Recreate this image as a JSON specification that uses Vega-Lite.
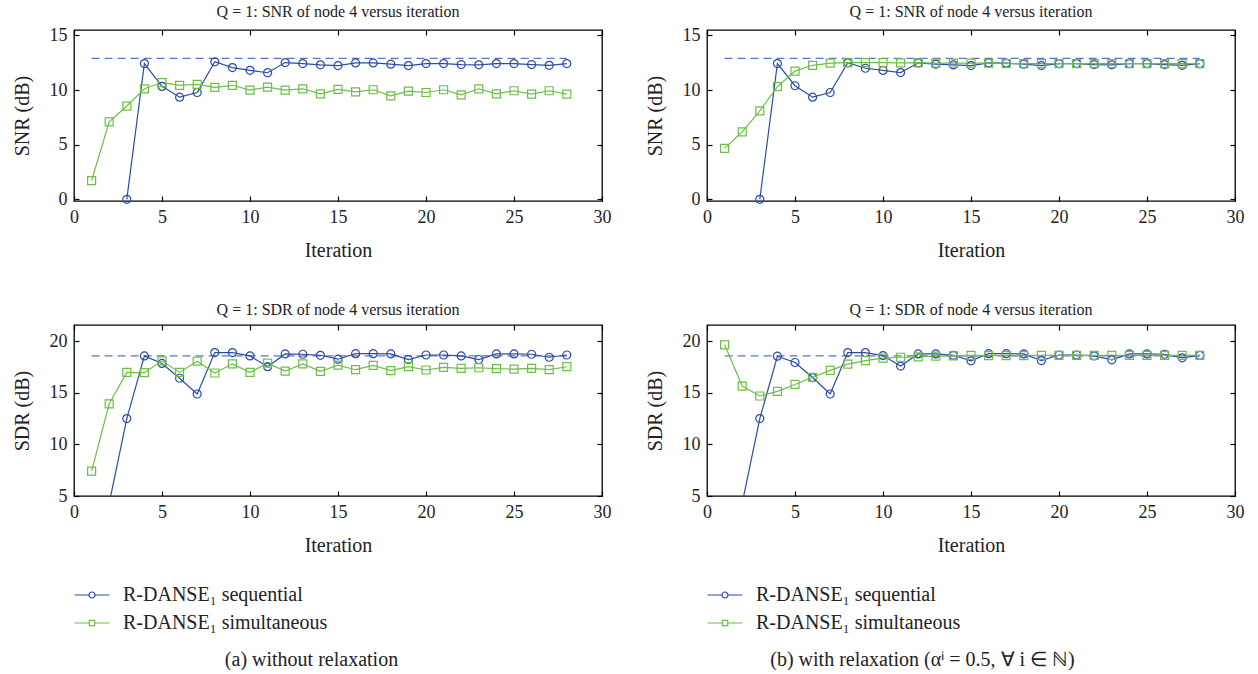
{
  "$schema": "https://vega.github.io/schema/vega-lite/v6.json",
  "background": "white",
  "padding": {"left": 11, "top": 3, "right": 5, "bottom": 0},
  "datasets": {
    "ref_snr": [{"iteration": 1, "value": 12.9}, {"iteration": 28, "value": 12.9}],
    "ref_sdr": [{"iteration": 1, "value": 18.6}, {"iteration": 28, "value": 18.6}],
    "snr_a": [
      {"iteration": 3, "series": "R-DANSE₁ sequential", "value": 0.0},
      {"iteration": 4, "series": "R-DANSE₁ sequential", "value": 12.43},
      {"iteration": 5, "series": "R-DANSE₁ sequential", "value": 10.34},
      {"iteration": 6, "series": "R-DANSE₁ sequential", "value": 9.35},
      {"iteration": 7, "series": "R-DANSE₁ sequential", "value": 9.78},
      {"iteration": 8, "series": "R-DANSE₁ sequential", "value": 12.59},
      {"iteration": 9, "series": "R-DANSE₁ sequential", "value": 12.06},
      {"iteration": 10, "series": "R-DANSE₁ sequential", "value": 11.81},
      {"iteration": 11, "series": "R-DANSE₁ sequential", "value": 11.59},
      {"iteration": 12, "series": "R-DANSE₁ sequential", "value": 12.52},
      {"iteration": 13, "series": "R-DANSE₁ sequential", "value": 12.43},
      {"iteration": 14, "series": "R-DANSE₁ sequential", "value": 12.31},
      {"iteration": 15, "series": "R-DANSE₁ sequential", "value": 12.24},
      {"iteration": 16, "series": "R-DANSE₁ sequential", "value": 12.49},
      {"iteration": 17, "series": "R-DANSE₁ sequential", "value": 12.49},
      {"iteration": 18, "series": "R-DANSE₁ sequential", "value": 12.37},
      {"iteration": 19, "series": "R-DANSE₁ sequential", "value": 12.24},
      {"iteration": 20, "series": "R-DANSE₁ sequential", "value": 12.43},
      {"iteration": 21, "series": "R-DANSE₁ sequential", "value": 12.43},
      {"iteration": 22, "series": "R-DANSE₁ sequential", "value": 12.34},
      {"iteration": 23, "series": "R-DANSE₁ sequential", "value": 12.31},
      {"iteration": 24, "series": "R-DANSE₁ sequential", "value": 12.43},
      {"iteration": 25, "series": "R-DANSE₁ sequential", "value": 12.43},
      {"iteration": 26, "series": "R-DANSE₁ sequential", "value": 12.34},
      {"iteration": 27, "series": "R-DANSE₁ sequential", "value": 12.27},
      {"iteration": 28, "series": "R-DANSE₁ sequential", "value": 12.43},
      {"iteration": 1, "series": "R-DANSE₁ simultaneous", "value": 1.71},
      {"iteration": 2, "series": "R-DANSE₁ simultaneous", "value": 7.1},
      {"iteration": 3, "series": "R-DANSE₁ simultaneous", "value": 8.54},
      {"iteration": 4, "series": "R-DANSE₁ simultaneous", "value": 10.12},
      {"iteration": 5, "series": "R-DANSE₁ simultaneous", "value": 10.69},
      {"iteration": 6, "series": "R-DANSE₁ simultaneous", "value": 10.44},
      {"iteration": 7, "series": "R-DANSE₁ simultaneous", "value": 10.53},
      {"iteration": 8, "series": "R-DANSE₁ simultaneous", "value": 10.25},
      {"iteration": 9, "series": "R-DANSE₁ simultaneous", "value": 10.44},
      {"iteration": 10, "series": "R-DANSE₁ simultaneous", "value": 10.0},
      {"iteration": 11, "series": "R-DANSE₁ simultaneous", "value": 10.28},
      {"iteration": 12, "series": "R-DANSE₁ simultaneous", "value": 10.0},
      {"iteration": 13, "series": "R-DANSE₁ simultaneous", "value": 10.12},
      {"iteration": 14, "series": "R-DANSE₁ simultaneous", "value": 9.66},
      {"iteration": 15, "series": "R-DANSE₁ simultaneous", "value": 10.06},
      {"iteration": 16, "series": "R-DANSE₁ simultaneous", "value": 9.84},
      {"iteration": 17, "series": "R-DANSE₁ simultaneous", "value": 10.03},
      {"iteration": 18, "series": "R-DANSE₁ simultaneous", "value": 9.47},
      {"iteration": 19, "series": "R-DANSE₁ simultaneous", "value": 9.91},
      {"iteration": 20, "series": "R-DANSE₁ simultaneous", "value": 9.78},
      {"iteration": 21, "series": "R-DANSE₁ simultaneous", "value": 10.03},
      {"iteration": 22, "series": "R-DANSE₁ simultaneous", "value": 9.56},
      {"iteration": 23, "series": "R-DANSE₁ simultaneous", "value": 10.12},
      {"iteration": 24, "series": "R-DANSE₁ simultaneous", "value": 9.66},
      {"iteration": 25, "series": "R-DANSE₁ simultaneous", "value": 9.94},
      {"iteration": 26, "series": "R-DANSE₁ simultaneous", "value": 9.63},
      {"iteration": 27, "series": "R-DANSE₁ simultaneous", "value": 9.94},
      {"iteration": 28, "series": "R-DANSE₁ simultaneous", "value": 9.63}
    ],
    "snr_b": [
      {"iteration": 3, "series": "R-DANSE₁ sequential", "value": 0.0},
      {"iteration": 4, "series": "R-DANSE₁ sequential", "value": 12.43},
      {"iteration": 5, "series": "R-DANSE₁ sequential", "value": 10.4},
      {"iteration": 6, "series": "R-DANSE₁ sequential", "value": 9.35},
      {"iteration": 7, "series": "R-DANSE₁ sequential", "value": 9.78},
      {"iteration": 8, "series": "R-DANSE₁ sequential", "value": 12.5},
      {"iteration": 9, "series": "R-DANSE₁ sequential", "value": 12.0},
      {"iteration": 10, "series": "R-DANSE₁ sequential", "value": 11.8},
      {"iteration": 11, "series": "R-DANSE₁ sequential", "value": 11.6},
      {"iteration": 12, "series": "R-DANSE₁ sequential", "value": 12.5},
      {"iteration": 13, "series": "R-DANSE₁ sequential", "value": 12.37},
      {"iteration": 14, "series": "R-DANSE₁ sequential", "value": 12.3},
      {"iteration": 15, "series": "R-DANSE₁ sequential", "value": 12.24},
      {"iteration": 16, "series": "R-DANSE₁ sequential", "value": 12.49},
      {"iteration": 17, "series": "R-DANSE₁ sequential", "value": 12.46},
      {"iteration": 18, "series": "R-DANSE₁ sequential", "value": 12.37},
      {"iteration": 19, "series": "R-DANSE₁ sequential", "value": 12.24},
      {"iteration": 20, "series": "R-DANSE₁ sequential", "value": 12.43},
      {"iteration": 21, "series": "R-DANSE₁ sequential", "value": 12.43},
      {"iteration": 22, "series": "R-DANSE₁ sequential", "value": 12.34},
      {"iteration": 23, "series": "R-DANSE₁ sequential", "value": 12.31},
      {"iteration": 24, "series": "R-DANSE₁ sequential", "value": 12.43},
      {"iteration": 25, "series": "R-DANSE₁ sequential", "value": 12.43},
      {"iteration": 26, "series": "R-DANSE₁ sequential", "value": 12.34},
      {"iteration": 27, "series": "R-DANSE₁ sequential", "value": 12.27},
      {"iteration": 28, "series": "R-DANSE₁ sequential", "value": 12.43},
      {"iteration": 1, "series": "R-DANSE₁ simultaneous", "value": 4.67},
      {"iteration": 2, "series": "R-DANSE₁ simultaneous", "value": 6.17},
      {"iteration": 3, "series": "R-DANSE₁ simultaneous", "value": 8.1},
      {"iteration": 4, "series": "R-DANSE₁ simultaneous", "value": 10.31},
      {"iteration": 5, "series": "R-DANSE₁ simultaneous", "value": 11.74},
      {"iteration": 6, "series": "R-DANSE₁ simultaneous", "value": 12.27},
      {"iteration": 7, "series": "R-DANSE₁ simultaneous", "value": 12.46},
      {"iteration": 8, "series": "R-DANSE₁ simultaneous", "value": 12.52},
      {"iteration": 9, "series": "R-DANSE₁ simultaneous", "value": 12.52},
      {"iteration": 10, "series": "R-DANSE₁ simultaneous", "value": 12.52},
      {"iteration": 11, "series": "R-DANSE₁ simultaneous", "value": 12.49},
      {"iteration": 12, "series": "R-DANSE₁ simultaneous", "value": 12.49},
      {"iteration": 13, "series": "R-DANSE₁ simultaneous", "value": 12.46},
      {"iteration": 14, "series": "R-DANSE₁ simultaneous", "value": 12.46},
      {"iteration": 15, "series": "R-DANSE₁ simultaneous", "value": 12.46},
      {"iteration": 16, "series": "R-DANSE₁ simultaneous", "value": 12.46},
      {"iteration": 17, "series": "R-DANSE₁ simultaneous", "value": 12.43},
      {"iteration": 18, "series": "R-DANSE₁ simultaneous", "value": 12.43},
      {"iteration": 19, "series": "R-DANSE₁ simultaneous", "value": 12.43},
      {"iteration": 20, "series": "R-DANSE₁ simultaneous", "value": 12.43},
      {"iteration": 21, "series": "R-DANSE₁ simultaneous", "value": 12.43},
      {"iteration": 22, "series": "R-DANSE₁ simultaneous", "value": 12.43},
      {"iteration": 23, "series": "R-DANSE₁ simultaneous", "value": 12.43},
      {"iteration": 24, "series": "R-DANSE₁ simultaneous", "value": 12.43},
      {"iteration": 25, "series": "R-DANSE₁ simultaneous", "value": 12.43},
      {"iteration": 26, "series": "R-DANSE₁ simultaneous", "value": 12.43},
      {"iteration": 27, "series": "R-DANSE₁ simultaneous", "value": 12.43},
      {"iteration": 28, "series": "R-DANSE₁ simultaneous", "value": 12.43}
    ],
    "sdr_a": [
      {"iteration": 2, "series": "R-DANSE₁ sequential", "value": 4.3},
      {"iteration": 3, "series": "R-DANSE₁ sequential", "value": 12.52},
      {"iteration": 4, "series": "R-DANSE₁ sequential", "value": 18.6},
      {"iteration": 5, "series": "R-DANSE₁ sequential", "value": 17.87},
      {"iteration": 6, "series": "R-DANSE₁ sequential", "value": 16.43},
      {"iteration": 7, "series": "R-DANSE₁ sequential", "value": 14.9},
      {"iteration": 8, "series": "R-DANSE₁ sequential", "value": 18.92},
      {"iteration": 9, "series": "R-DANSE₁ sequential", "value": 18.92},
      {"iteration": 10, "series": "R-DANSE₁ sequential", "value": 18.6},
      {"iteration": 11, "series": "R-DANSE₁ sequential", "value": 17.55},
      {"iteration": 12, "series": "R-DANSE₁ sequential", "value": 18.79},
      {"iteration": 13, "series": "R-DANSE₁ sequential", "value": 18.76},
      {"iteration": 14, "series": "R-DANSE₁ sequential", "value": 18.66},
      {"iteration": 15, "series": "R-DANSE₁ sequential", "value": 18.28},
      {"iteration": 16, "series": "R-DANSE₁ sequential", "value": 18.82},
      {"iteration": 17, "series": "R-DANSE₁ sequential", "value": 18.82},
      {"iteration": 18, "series": "R-DANSE₁ sequential", "value": 18.79},
      {"iteration": 19, "series": "R-DANSE₁ sequential", "value": 18.25},
      {"iteration": 20, "series": "R-DANSE₁ sequential", "value": 18.69},
      {"iteration": 21, "series": "R-DANSE₁ sequential", "value": 18.69},
      {"iteration": 22, "series": "R-DANSE₁ sequential", "value": 18.6},
      {"iteration": 23, "series": "R-DANSE₁ sequential", "value": 18.25},
      {"iteration": 24, "series": "R-DANSE₁ sequential", "value": 18.79},
      {"iteration": 25, "series": "R-DANSE₁ sequential", "value": 18.79},
      {"iteration": 26, "series": "R-DANSE₁ sequential", "value": 18.76},
      {"iteration": 27, "series": "R-DANSE₁ sequential", "value": 18.47},
      {"iteration": 28, "series": "R-DANSE₁ sequential", "value": 18.69},
      {"iteration": 1, "series": "R-DANSE₁ simultaneous", "value": 7.42},
      {"iteration": 2, "series": "R-DANSE₁ simultaneous", "value": 13.95},
      {"iteration": 3, "series": "R-DANSE₁ simultaneous", "value": 17.0},
      {"iteration": 4, "series": "R-DANSE₁ simultaneous", "value": 16.97},
      {"iteration": 5, "series": "R-DANSE₁ simultaneous", "value": 18.12},
      {"iteration": 6, "series": "R-DANSE₁ simultaneous", "value": 17.0},
      {"iteration": 7, "series": "R-DANSE₁ simultaneous", "value": 18.09},
      {"iteration": 8, "series": "R-DANSE₁ simultaneous", "value": 16.94},
      {"iteration": 9, "series": "R-DANSE₁ simultaneous", "value": 17.83},
      {"iteration": 10, "series": "R-DANSE₁ simultaneous", "value": 17.0},
      {"iteration": 11, "series": "R-DANSE₁ simultaneous", "value": 17.9},
      {"iteration": 12, "series": "R-DANSE₁ simultaneous", "value": 17.13},
      {"iteration": 13, "series": "R-DANSE₁ simultaneous", "value": 17.83},
      {"iteration": 14, "series": "R-DANSE₁ simultaneous", "value": 17.1},
      {"iteration": 15, "series": "R-DANSE₁ simultaneous", "value": 17.7},
      {"iteration": 16, "series": "R-DANSE₁ simultaneous", "value": 17.26},
      {"iteration": 17, "series": "R-DANSE₁ simultaneous", "value": 17.68},
      {"iteration": 18, "series": "R-DANSE₁ simultaneous", "value": 17.17},
      {"iteration": 19, "series": "R-DANSE₁ simultaneous", "value": 17.55},
      {"iteration": 20, "series": "R-DANSE₁ simultaneous", "value": 17.23},
      {"iteration": 21, "series": "R-DANSE₁ simultaneous", "value": 17.48},
      {"iteration": 22, "series": "R-DANSE₁ simultaneous", "value": 17.39},
      {"iteration": 23, "series": "R-DANSE₁ simultaneous", "value": 17.45},
      {"iteration": 24, "series": "R-DANSE₁ simultaneous", "value": 17.36},
      {"iteration": 25, "series": "R-DANSE₁ simultaneous", "value": 17.32},
      {"iteration": 26, "series": "R-DANSE₁ simultaneous", "value": 17.39},
      {"iteration": 27, "series": "R-DANSE₁ simultaneous", "value": 17.26},
      {"iteration": 28, "series": "R-DANSE₁ simultaneous", "value": 17.55}
    ],
    "sdr_b": [
      {"iteration": 2, "series": "R-DANSE₁ sequential", "value": 4.3},
      {"iteration": 3, "series": "R-DANSE₁ sequential", "value": 12.52},
      {"iteration": 4, "series": "R-DANSE₁ sequential", "value": 18.57},
      {"iteration": 5, "series": "R-DANSE₁ sequential", "value": 17.96},
      {"iteration": 6, "series": "R-DANSE₁ sequential", "value": 16.5},
      {"iteration": 7, "series": "R-DANSE₁ sequential", "value": 14.9},
      {"iteration": 8, "series": "R-DANSE₁ sequential", "value": 18.92},
      {"iteration": 9, "series": "R-DANSE₁ sequential", "value": 18.92},
      {"iteration": 10, "series": "R-DANSE₁ sequential", "value": 18.63},
      {"iteration": 11, "series": "R-DANSE₁ sequential", "value": 17.61},
      {"iteration": 12, "series": "R-DANSE₁ sequential", "value": 18.79},
      {"iteration": 13, "series": "R-DANSE₁ sequential", "value": 18.79},
      {"iteration": 14, "series": "R-DANSE₁ sequential", "value": 18.66},
      {"iteration": 15, "series": "R-DANSE₁ sequential", "value": 18.12},
      {"iteration": 16, "series": "R-DANSE₁ sequential", "value": 18.82},
      {"iteration": 17, "series": "R-DANSE₁ sequential", "value": 18.82},
      {"iteration": 18, "series": "R-DANSE₁ sequential", "value": 18.79},
      {"iteration": 19, "series": "R-DANSE₁ sequential", "value": 18.15},
      {"iteration": 20, "series": "R-DANSE₁ sequential", "value": 18.69},
      {"iteration": 21, "series": "R-DANSE₁ sequential", "value": 18.69},
      {"iteration": 22, "series": "R-DANSE₁ sequential", "value": 18.6},
      {"iteration": 23, "series": "R-DANSE₁ sequential", "value": 18.22},
      {"iteration": 24, "series": "R-DANSE₁ sequential", "value": 18.79},
      {"iteration": 25, "series": "R-DANSE₁ sequential", "value": 18.79},
      {"iteration": 26, "series": "R-DANSE₁ sequential", "value": 18.76},
      {"iteration": 27, "series": "R-DANSE₁ sequential", "value": 18.41},
      {"iteration": 28, "series": "R-DANSE₁ sequential", "value": 18.66},
      {"iteration": 1, "series": "R-DANSE₁ simultaneous", "value": 19.68},
      {"iteration": 2, "series": "R-DANSE₁ simultaneous", "value": 15.67},
      {"iteration": 3, "series": "R-DANSE₁ simultaneous", "value": 14.71},
      {"iteration": 4, "series": "R-DANSE₁ simultaneous", "value": 15.16},
      {"iteration": 5, "series": "R-DANSE₁ simultaneous", "value": 15.83},
      {"iteration": 6, "series": "R-DANSE₁ simultaneous", "value": 16.53},
      {"iteration": 7, "series": "R-DANSE₁ simultaneous", "value": 17.2},
      {"iteration": 8, "series": "R-DANSE₁ simultaneous", "value": 17.8},
      {"iteration": 9, "series": "R-DANSE₁ simultaneous", "value": 18.15},
      {"iteration": 10, "series": "R-DANSE₁ simultaneous", "value": 18.38},
      {"iteration": 11, "series": "R-DANSE₁ simultaneous", "value": 18.47},
      {"iteration": 12, "series": "R-DANSE₁ simultaneous", "value": 18.5},
      {"iteration": 13, "series": "R-DANSE₁ simultaneous", "value": 18.57},
      {"iteration": 14, "series": "R-DANSE₁ simultaneous", "value": 18.6},
      {"iteration": 15, "series": "R-DANSE₁ simultaneous", "value": 18.66},
      {"iteration": 16, "series": "R-DANSE₁ simultaneous", "value": 18.63},
      {"iteration": 17, "series": "R-DANSE₁ simultaneous", "value": 18.63},
      {"iteration": 18, "series": "R-DANSE₁ simultaneous", "value": 18.63},
      {"iteration": 19, "series": "R-DANSE₁ simultaneous", "value": 18.66},
      {"iteration": 20, "series": "R-DANSE₁ simultaneous", "value": 18.66},
      {"iteration": 21, "series": "R-DANSE₁ simultaneous", "value": 18.66},
      {"iteration": 22, "series": "R-DANSE₁ simultaneous", "value": 18.66},
      {"iteration": 23, "series": "R-DANSE₁ simultaneous", "value": 18.66},
      {"iteration": 24, "series": "R-DANSE₁ simultaneous", "value": 18.66},
      {"iteration": 25, "series": "R-DANSE₁ simultaneous", "value": 18.66},
      {"iteration": 26, "series": "R-DANSE₁ simultaneous", "value": 18.66},
      {"iteration": 27, "series": "R-DANSE₁ simultaneous", "value": 18.66},
      {"iteration": 28, "series": "R-DANSE₁ simultaneous", "value": 18.66}
    ]
  },
  "hconcat": [
    {
      "title": {"text": "(a)  without relaxation", "orient": "bottom", "anchor": "middle", "offset": 17, "fontSize": 20},
      "spacing": 40,
      "vconcat": [
        {
          "width": 528, "height": 171,
          "title": "Q = 1: SNR of node 4 versus iteration",
          "layer": [
            {"data": {"name": "ref_snr"}, "mark": {"type": "line", "color": "#5A77C6", "strokeDash": [8, 5], "strokeWidth": 1.3},
             "encoding": {
               "x": {"field": "iteration", "type": "quantitative", "scale": {"domain": [0, 30], "nice": false}, "axis": {"title": "Iteration", "values": [0, 5, 10, 15, 20, 25, 30]}},
               "y": {"field": "value", "type": "quantitative", "scale": {"domain": [-0.15, 15.5], "nice": false, "zero": false}, "axis": {"title": "SNR (dB)", "values": [0, 5, 10, 15]}}}},
            {"data": {"name": "snr_a"}, "mark": {"type": "line", "strokeWidth": 1.2},
             "encoding": {
               "x": {"field": "iteration", "type": "quantitative", "scale": {"domain": [0, 30], "nice": false}, "axis": null},
               "y": {"field": "value", "type": "quantitative", "scale": {"domain": [-0.15, 15.5], "nice": false, "zero": false}, "axis": null},
               "color": {"field": "series", "type": "nominal", "scale": {"domain": ["R-DANSE₁ sequential", "R-DANSE₁ simultaneous"], "range": ["#2C4BA6", "#6DBE46"]},
                 "legend": {"title": null, "encode": {"symbols": {"update": {"shape": {"signal": "datum.index === 0 ? 'M-2.9,0H-0.5M0.5,0H2.9M0.5,0A0.5,0.5,0,1,1,-0.5,0A0.5,0.5,0,1,1,0.5,0Z' : 'M-2.9,0H-0.45M0.45,0H2.9M-0.45,-0.45H0.45V0.45H-0.45Z'"}, "size": {"value": 144}, "fill": {"value": "transparent"}}}}}}}},
            {"data": {"name": "snr_a"}, "mark": {"type": "point", "filled": false, "size": 64, "strokeWidth": 1.2, "opacity": 1},
             "encoding": {
               "x": {"field": "iteration", "type": "quantitative", "scale": {"domain": [0, 30], "nice": false}, "axis": {"orient": "top", "labels": false, "title": null, "values": [0, 5, 10, 15, 20, 25, 30]}},
               "y": {"field": "value", "type": "quantitative", "scale": {"domain": [-0.15, 15.5], "nice": false, "zero": false}, "axis": {"orient": "right", "labels": false, "title": null, "values": [0, 5, 10, 15]}},
               "color": {"field": "series", "type": "nominal", "scale": {"domain": ["R-DANSE₁ sequential", "R-DANSE₁ simultaneous"], "range": ["#2C4BA6", "#6DBE46"]},
                 "legend": {"title": null, "encode": {"symbols": {"update": {"shape": {"signal": "datum.index === 0 ? 'M-2.9,0H-0.5M0.5,0H2.9M0.5,0A0.5,0.5,0,1,1,-0.5,0A0.5,0.5,0,1,1,0.5,0Z' : 'M-2.9,0H-0.45M0.45,0H2.9M-0.45,-0.45H0.45V0.45H-0.45Z'"}, "size": {"value": 144}, "fill": {"value": "transparent"}}}}}},
               "shape": {"field": "series", "type": "nominal", "scale": {"domain": ["R-DANSE₁ sequential", "R-DANSE₁ simultaneous"], "range": ["circle", "square"]}, "legend": null}}}
          ],
          "resolve": {"axis": {"x": "independent", "y": "independent"}}
        },
        {
          "width": 528, "height": 171,
          "title": "Q = 1: SDR of node 4 versus iteration",
          "layer": [
            {"data": {"name": "ref_sdr"}, "mark": {"type": "line", "color": "#5A77C6", "strokeDash": [8, 5], "strokeWidth": 1.3},
             "encoding": {
               "x": {"field": "iteration", "type": "quantitative", "scale": {"domain": [0, 30], "nice": false}, "axis": {"title": "Iteration", "values": [0, 5, 10, 15, 20, 25, 30]}},
               "y": {"field": "value", "type": "quantitative", "scale": {"domain": [5, 21.6], "nice": false, "zero": false}, "axis": {"title": "SDR (dB)", "values": [5, 10, 15, 20]}}}},
            {"data": {"name": "sdr_a"}, "mark": {"type": "line", "strokeWidth": 1.2, "clip": true},
             "encoding": {
               "x": {"field": "iteration", "type": "quantitative", "scale": {"domain": [0, 30], "nice": false}, "axis": null},
               "y": {"field": "value", "type": "quantitative", "scale": {"domain": [5, 21.6], "nice": false, "zero": false}, "axis": null},
               "color": {"field": "series", "type": "nominal", "scale": {"domain": ["R-DANSE₁ sequential", "R-DANSE₁ simultaneous"], "range": ["#2C4BA6", "#6DBE46"]},
                 "legend": {"title": null, "encode": {"symbols": {"update": {"shape": {"signal": "datum.index === 0 ? 'M-2.9,0H-0.5M0.5,0H2.9M0.5,0A0.5,0.5,0,1,1,-0.5,0A0.5,0.5,0,1,1,0.5,0Z' : 'M-2.9,0H-0.45M0.45,0H2.9M-0.45,-0.45H0.45V0.45H-0.45Z'"}, "size": {"value": 144}, "fill": {"value": "transparent"}}}}}}}},
            {"data": {"name": "sdr_a"}, "mark": {"type": "point", "filled": false, "size": 64, "strokeWidth": 1.2, "opacity": 1, "clip": true},
             "encoding": {
               "x": {"field": "iteration", "type": "quantitative", "scale": {"domain": [0, 30], "nice": false}, "axis": {"orient": "top", "labels": false, "title": null, "values": [0, 5, 10, 15, 20, 25, 30]}},
               "y": {"field": "value", "type": "quantitative", "scale": {"domain": [5, 21.6], "nice": false, "zero": false}, "axis": {"orient": "right", "labels": false, "title": null, "values": [5, 10, 15, 20]}},
               "color": {"field": "series", "type": "nominal", "scale": {"domain": ["R-DANSE₁ sequential", "R-DANSE₁ simultaneous"], "range": ["#2C4BA6", "#6DBE46"]},
                 "legend": {"title": null, "encode": {"symbols": {"update": {"shape": {"signal": "datum.index === 0 ? 'M-2.9,0H-0.5M0.5,0H2.9M0.5,0A0.5,0.5,0,1,1,-0.5,0A0.5,0.5,0,1,1,0.5,0Z' : 'M-2.9,0H-0.45M0.45,0H2.9M-0.45,-0.45H0.45V0.45H-0.45Z'"}, "size": {"value": 144}, "fill": {"value": "transparent"}}}}}},
               "shape": {"field": "series", "type": "nominal", "scale": {"domain": ["R-DANSE₁ sequential", "R-DANSE₁ simultaneous"], "range": ["circle", "square"]}, "legend": null}}}
          ],
          "resolve": {"axis": {"x": "independent", "y": "independent"}}
        }
      ],
      "resolve": {"scale": {"y": "independent"}}
    },
    {
      "title": {"text": "(b)  with relaxation (αⁱ = 0.5,  ∀ i ∈ ℕ)", "orient": "bottom", "anchor": "middle", "offset": 17, "fontSize": 20, "dx": -22},
      "spacing": 40,
      "vconcat": [
        {
          "width": 528, "height": 171,
          "title": "Q = 1: SNR of node 4 versus iteration",
          "layer": [
            {"data": {"name": "ref_snr"}, "mark": {"type": "line", "color": "#5A77C6", "strokeDash": [8, 5], "strokeWidth": 1.3},
             "encoding": {
               "x": {"field": "iteration", "type": "quantitative", "scale": {"domain": [0, 30], "nice": false}, "axis": {"title": "Iteration", "values": [0, 5, 10, 15, 20, 25, 30]}},
               "y": {"field": "value", "type": "quantitative", "scale": {"domain": [-0.15, 15.5], "nice": false, "zero": false}, "axis": {"title": "SNR (dB)", "values": [0, 5, 10, 15]}}}},
            {"data": {"name": "snr_b"}, "mark": {"type": "line", "strokeWidth": 1.2},
             "encoding": {
               "x": {"field": "iteration", "type": "quantitative", "scale": {"domain": [0, 30], "nice": false}, "axis": null},
               "y": {"field": "value", "type": "quantitative", "scale": {"domain": [-0.15, 15.5], "nice": false, "zero": false}, "axis": null},
               "color": {"field": "series", "type": "nominal", "scale": {"domain": ["R-DANSE₁ sequential", "R-DANSE₁ simultaneous"], "range": ["#2C4BA6", "#6DBE46"]},
                 "legend": {"title": null, "encode": {"symbols": {"update": {"shape": {"signal": "datum.index === 0 ? 'M-2.9,0H-0.5M0.5,0H2.9M0.5,0A0.5,0.5,0,1,1,-0.5,0A0.5,0.5,0,1,1,0.5,0Z' : 'M-2.9,0H-0.45M0.45,0H2.9M-0.45,-0.45H0.45V0.45H-0.45Z'"}, "size": {"value": 144}, "fill": {"value": "transparent"}}}}}}}},
            {"data": {"name": "snr_b"}, "mark": {"type": "point", "filled": false, "size": 64, "strokeWidth": 1.2, "opacity": 1},
             "encoding": {
               "x": {"field": "iteration", "type": "quantitative", "scale": {"domain": [0, 30], "nice": false}, "axis": {"orient": "top", "labels": false, "title": null, "values": [0, 5, 10, 15, 20, 25, 30]}},
               "y": {"field": "value", "type": "quantitative", "scale": {"domain": [-0.15, 15.5], "nice": false, "zero": false}, "axis": {"orient": "right", "labels": false, "title": null, "values": [0, 5, 10, 15]}},
               "color": {"field": "series", "type": "nominal", "scale": {"domain": ["R-DANSE₁ sequential", "R-DANSE₁ simultaneous"], "range": ["#2C4BA6", "#6DBE46"]},
                 "legend": {"title": null, "encode": {"symbols": {"update": {"shape": {"signal": "datum.index === 0 ? 'M-2.9,0H-0.5M0.5,0H2.9M0.5,0A0.5,0.5,0,1,1,-0.5,0A0.5,0.5,0,1,1,0.5,0Z' : 'M-2.9,0H-0.45M0.45,0H2.9M-0.45,-0.45H0.45V0.45H-0.45Z'"}, "size": {"value": 144}, "fill": {"value": "transparent"}}}}}},
               "shape": {"field": "series", "type": "nominal", "scale": {"domain": ["R-DANSE₁ sequential", "R-DANSE₁ simultaneous"], "range": ["circle", "square"]}, "legend": null}}}
          ],
          "resolve": {"axis": {"x": "independent", "y": "independent"}}
        },
        {
          "width": 528, "height": 171,
          "title": "Q = 1: SDR of node 4 versus iteration",
          "layer": [
            {"data": {"name": "ref_sdr"}, "mark": {"type": "line", "color": "#5A77C6", "strokeDash": [8, 5], "strokeWidth": 1.3},
             "encoding": {
               "x": {"field": "iteration", "type": "quantitative", "scale": {"domain": [0, 30], "nice": false}, "axis": {"title": "Iteration", "values": [0, 5, 10, 15, 20, 25, 30]}},
               "y": {"field": "value", "type": "quantitative", "scale": {"domain": [5, 21.6], "nice": false, "zero": false}, "axis": {"title": "SDR (dB)", "values": [5, 10, 15, 20]}}}},
            {"data": {"name": "sdr_b"}, "mark": {"type": "line", "strokeWidth": 1.2, "clip": true},
             "encoding": {
               "x": {"field": "iteration", "type": "quantitative", "scale": {"domain": [0, 30], "nice": false}, "axis": null},
               "y": {"field": "value", "type": "quantitative", "scale": {"domain": [5, 21.6], "nice": false, "zero": false}, "axis": null},
               "color": {"field": "series", "type": "nominal", "scale": {"domain": ["R-DANSE₁ sequential", "R-DANSE₁ simultaneous"], "range": ["#2C4BA6", "#6DBE46"]},
                 "legend": {"title": null, "encode": {"symbols": {"update": {"shape": {"signal": "datum.index === 0 ? 'M-2.9,0H-0.5M0.5,0H2.9M0.5,0A0.5,0.5,0,1,1,-0.5,0A0.5,0.5,0,1,1,0.5,0Z' : 'M-2.9,0H-0.45M0.45,0H2.9M-0.45,-0.45H0.45V0.45H-0.45Z'"}, "size": {"value": 144}, "fill": {"value": "transparent"}}}}}}}},
            {"data": {"name": "sdr_b"}, "mark": {"type": "point", "filled": false, "size": 64, "strokeWidth": 1.2, "opacity": 1, "clip": true},
             "encoding": {
               "x": {"field": "iteration", "type": "quantitative", "scale": {"domain": [0, 30], "nice": false}, "axis": {"orient": "top", "labels": false, "title": null, "values": [0, 5, 10, 15, 20, 25, 30]}},
               "y": {"field": "value", "type": "quantitative", "scale": {"domain": [5, 21.6], "nice": false, "zero": false}, "axis": {"orient": "right", "labels": false, "title": null, "values": [5, 10, 15, 20]}},
               "color": {"field": "series", "type": "nominal", "scale": {"domain": ["R-DANSE₁ sequential", "R-DANSE₁ simultaneous"], "range": ["#2C4BA6", "#6DBE46"]},
                 "legend": {"title": null, "encode": {"symbols": {"update": {"shape": {"signal": "datum.index === 0 ? 'M-2.9,0H-0.5M0.5,0H2.9M0.5,0A0.5,0.5,0,1,1,-0.5,0A0.5,0.5,0,1,1,0.5,0Z' : 'M-2.9,0H-0.45M0.45,0H2.9M-0.45,-0.45H0.45V0.45H-0.45Z'"}, "size": {"value": 144}, "fill": {"value": "transparent"}}}}}},
               "shape": {"field": "series", "type": "nominal", "scale": {"domain": ["R-DANSE₁ sequential", "R-DANSE₁ simultaneous"], "range": ["circle", "square"]}, "legend": null}}}
          ],
          "resolve": {"axis": {"x": "independent", "y": "independent"}}
        }
      ],
      "resolve": {"scale": {"y": "independent"}}
    }
  ],
  "spacing": 32,
  "resolve": {"legend": {"color": "independent"}},
  "config": {
    "font": "Liberation Serif",
    "view": {"stroke": "black", "strokeWidth": 1.3},
    "axis": {
      "labelFont": "Liberation Serif", "labelFontSize": 18, "labelColor": "#222",
      "titleFont": "Liberation Serif", "titleFontSize": 20, "titleFontWeight": "normal", "titleColor": "#222",
      "grid": false, "domain": false, "ticks": true, "tickSize": -5, "tickColor": "black", "tickWidth": 1.2,
      "labelPadding": 12, "titlePadding": 17, "labelFlush": false
    },
    "axisX": {"titlePadding": 14},
    "title": {"font": "Liberation Serif", "fontSize": 16, "fontWeight": "normal", "color": "#222", "offset": 6},
    "legend": {
      "orient": "none", "legendX": 8, "legendY": 555,
      "labelFont": "Liberation Serif", "labelFontSize": 20, "labelColor": "#222", "labelLimit": 0,
      "symbolSize": 144, "symbolStrokeWidth": 1.2, "labelOffset": 21, "rowPadding": 8,
      "symbolFillColor": "transparent",
      "direction": "vertical"
    }
  }
}
